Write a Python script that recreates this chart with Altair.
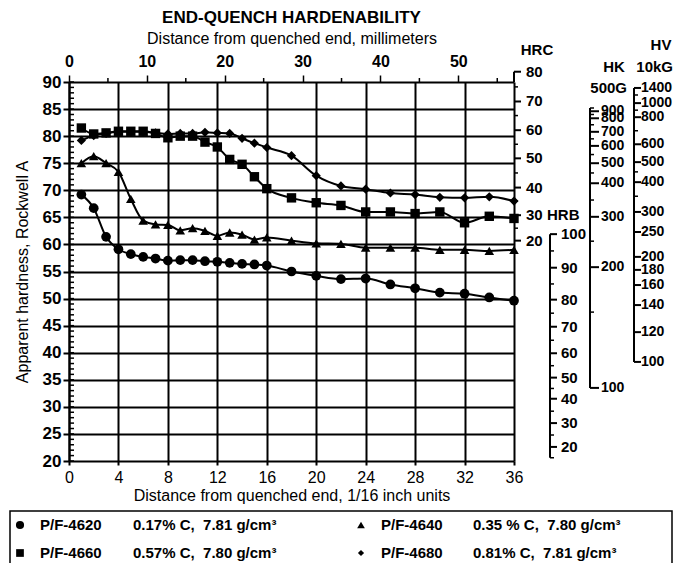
import altair as alt
import pandas as pd

# ---------------- data ----------------
DIST = [1, 2, 3, 4, 5, 6, 7, 8, 9, 10, 11, 12, 13, 14, 15, 16, 18, 20, 22, 24, 26, 28, 30, 32, 34, 36]
PF4620 = [69.2, 66.7, 61.4, 59.1, 58.2, 57.7, 57.4, 57.0, 57.1, 57.1, 56.9, 56.8, 56.6, 56.4, 56.3, 56.1,
          55.0, 54.2, 53.6, 53.7, 52.6, 51.9, 51.1, 50.9, 50.2, 49.6]
PF4640 = [75.0, 76.3, 75.0, 73.4, 68.4, 64.4, 63.7, 63.6, 62.6, 63.0, 62.5, 61.6, 62.2, 61.8, 60.9, 61.3,
          60.7, 60.2, 60.1, 59.4, 59.4, 59.4, 59.0, 59.0, 58.8, 59.0]
PF4660 = [81.5, 80.4, 80.6, 80.9, 80.9, 80.9, 80.5, 79.7, 80.0, 80.0, 78.9, 78.0, 75.7, 74.8, 72.5, 70.3,
          68.6, 67.7, 67.2, 66.0, 66.0, 65.7, 66.0, 64.0, 65.2, 64.8]
PF4680 = [79.2, 80.1, 80.5, 80.8, 80.8, 80.8, 80.6, 80.4, 80.5, 80.5, 80.7, 80.6, 80.5, 79.6, 78.7, 77.9,
          76.4, 72.7, 70.8, 70.2, 69.5, 69.2, 68.7, 68.6, 68.8, 68.0]
SERIES = ["P/F-4620", "P/F-4640", "P/F-4660", "P/F-4680"]
SHAPES = ["circle", "triangle-up", "square", "diamond"]
SIZES = [95, 85, 85, 55]

X_TICKS = [0, 4, 8, 12, 16, 20, 24, 28, 32, 36]
Y_TICKS = [20, 25, 30, 35, 40, 45, 50, 55, 60, 65, 70, 75, 80, 85, 90]
MINOR_HRA = [float(v) for v in range(20, 91)]
MM_TICKS = [0, 10, 20, 30, 40, 50]
MM_MINOR = [5, 15, 25, 35, 45, 55]
MM_PER_UNIT = 1.5875  # 1/16 inch in mm

# hardness conversion scales (label, equivalent Rockwell A)
HRC_LABELS = ["80", "70", "60", "50", "40", "30", "20"]
HRC_HRA = [91.9, 86.4, 81.1, 75.9, 70.5, 65.4, 60.7]
HRC_MINOR = [89.1, 83.8, 78.5, 73.2, 68.0, 63.0]

HRB_LABELS = ["100", "90", "80", "70", "60", "50", "40", "30", "20"]
HRB_HRA = [61.9, 55.7, 49.8, 44.8, 39.9, 35.4, 31.5, 27.0, 22.6]
HRB_MINOR = [58.8, 52.7, 47.3, 42.3, 37.6, 33.4, 29.2, 24.8, 20.6]

HK_LABELS = ["900", "800", "700", "600", "500", "400", "300", "200", "100"]
HK_HRA = [84.6, 83.3, 80.8, 78.2, 75.0, 71.3, 65.1, 55.8, 33.5]
HK_MINOR = [85.2, 84.0, 82.1, 79.5, 76.6, 73.2, 68.2, 60.6, 47.5]

HV_LABELS = ["1400", "1000", "800", "600", "500", "400", "300", "250", "200", "180", "160", "140", "120", "100"]
HV_HRA = [88.9, 86.1, 83.5, 78.5, 75.2, 71.5, 66.0, 62.3, 57.7, 55.3, 52.5, 48.8, 43.8, 38.3]
HV_MINOR = [87.6, 84.8, 81.0, 73.4, 68.9]

LEGEND_DESC = ["0.17% C,\u00a0\u00a07.81 g/cm\u00b3", "0.35 % C,\u00a0\u00a07.80 g/cm\u00b3",
               "0.57% C,\u00a0\u00a07.80 g/cm\u00b3", "0.81% C,\u00a0\u00a07.81 g/cm\u00b3"]

FONT = "Liberation Sans"
W, H = 445, 379

xs = alt.Scale(domain=[0, 36], nice=False)
ys = alt.Scale(domain=[20, 90], nice=False)

rows = []
for name, vals in zip(SERIES, [PF4620, PF4640, PF4660, PF4680]):
    for d, v in zip(DIST, vals):
        rows.append({"dist": d, "hra": v, "series": name})
df = pd.DataFrame(rows)

x_axis = alt.Axis(values=X_TICKS, grid=True, gridColor="black", gridWidth=2, domain=False,
                  tickSize=4, tickWidth=2, tickColor="black", labelFont=FONT, labelFontSize=16,
                  labelColor="black", labelPadding=4, labelFlush=False,
                  title="Distance from quenched end, 1/16 inch units", titleFont=FONT,
                  titleFontSize=16, titleFontWeight="normal", titleColor="black", titlePadding=2)
y_axis = alt.Axis(values=Y_TICKS, grid=True, gridColor="black", gridWidth=2, domain=True,
                  domainColor="black", domainWidth=2, tickSize=6, tickWidth=2, tickColor="black",
                  labelFont=FONT, labelFontSize=17, labelFontWeight="bold", labelColor="black",
                  labelPadding=2, labelFlush=False, labelOverlap=False,
                  title="Apparent hardness, Rockwell A",
                  titleFont=FONT, titleFontSize=16, titleFontWeight="normal", titleColor="black",
                  titlePadding=12)


def Yq(field):
    # every layer has its own (identical) y scale; only the data layer shows the axis
    return alt.Y(field, type="quantitative", scale=ys, axis=None)


def hrule(values, x_from, x_to, width):
    return alt.Chart(pd.DataFrame({"hra": values})).mark_rule(color="black", strokeWidth=width).encode(
        x=alt.value(x_from), x2=alt.value(x_to), y=Yq("hra"))


lines = alt.Chart(df).mark_line(color="black", strokeWidth=2, interpolate="monotone").encode(
    x=alt.X("dist:Q", scale=xs, axis=x_axis),
    y=alt.Y("hra:Q", scale=ys, axis=y_axis),
    detail="series:N",
)
points = alt.Chart(df).mark_point(filled=True, fill="black", opacity=1, strokeWidth=0).encode(
    x=alt.X("dist:Q", scale=xs, axis=None),
    y=Yq("hra"),
    shape=alt.Shape("series:N", scale=alt.Scale(domain=SERIES, range=SHAPES), legend=None),
    size=alt.Size("series:N", scale=alt.Scale(domain=SERIES, range=SIZES), legend=None),
)


def aux_scale(xl, labels, hra, minor, top, bottom, tlen=7, mlen=4, dx=10, fsize=15):
    layers = []
    layers.append(alt.Chart(pd.DataFrame({"hra": [top], "hra_end": [bottom]})).mark_rule(
        color="black", strokeWidth=2).encode(
        x=alt.value(xl), y=Yq("hra"), y2="hra_end:Q"))
    tdf = pd.DataFrame({"hra": hra, "label": labels})
    layers.append(alt.Chart(tdf).mark_rule(color="black", strokeWidth=2).encode(
        x=alt.value(xl), x2=alt.value(xl + tlen), y=Yq("hra")))
    layers.append(hrule(minor, xl, xl + mlen, 1.5))
    layers.append(alt.Chart(tdf).mark_text(align="left", baseline="middle", font=FONT, fontSize=fsize,
                                           fontWeight="bold", color="black").encode(
        x=alt.value(xl + dx), y=Yq("hra"), text="label:N"))
    return layers


aux = []
aux += aux_scale(W, HRC_LABELS, HRC_HRA, HRC_MINOR, 91.9, 90, tlen=7, dx=12)
aux += aux_scale(481, HRB_LABELS, HRB_HRA, HRB_MINOR, 61.9, 20.6, tlen=7, dx=11)
aux += aux_scale(521, HK_LABELS, HK_HRA, HK_MINOR, 85.2, 33.5, tlen=9, dx=11, fsize=14)
aux += aux_scale(565, HV_LABELS, HV_HRA, HV_MINOR, 88.9, 38.3, tlen=7, dx=7, fsize=14)

# minor ticks every 1 HRA inside the left axis
minor_left = hrule(MINOR_HRA, 0, 5, 1.5)

one = pd.DataFrame({"a": [0]})


def txt(s, x, y, align="center", size=15, weight="bold"):
    return alt.Chart(one).mark_text(text=s, align=align, baseline="middle", font=FONT, fontSize=size,
                                    fontWeight=weight, color="black").encode(x=alt.value(x), y=alt.value(y))


heads = [
    txt("HRC", 468, -32),
    txt("HV", 592, -37),
    txt("HK", 545, -15),
    txt("10kG", 604, -15, align="right"),
    txt("500G", 558, 6, align="right"),
    alt.Chart(pd.DataFrame({"hra": [65.4]})).mark_text(text="HRB", align="left", baseline="middle", font=FONT,
                                                         fontSize=15, fontWeight="bold", color="black").encode(
        x=alt.value(478), y=Yq("hra")),
]

# legend box
legend = [alt.Chart(one).mark_rect(fillOpacity=0, stroke="black", strokeWidth=1.5).encode(
    x=alt.value(-59), x2=alt.value(603), y=alt.value(429), y2=alt.value(500))]
LEG_POS = [(-49, 443), (292, 443), (-49, 471), (292, 471)]
for i, (name, desc) in enumerate(zip(SERIES, LEGEND_DESC)):
    sx, sy = LEG_POS[i]
    legend.append(alt.Chart(one).mark_point(shape=SHAPES[i], size=SIZES[i] * 0.7, filled=True, fill="black",
                                            opacity=1, strokeWidth=0).encode(x=alt.value(sx), y=alt.value(sy)))
    legend.append(txt(name, sx + 20, sy, align="left", size=15))
    legend.append(txt(desc, sx + 113 if i % 2 == 0 else sx + 112, sy, align="left", size=15))

mm_layer = alt.Chart(pd.DataFrame({"mm": MM_MINOR})).mark_rule(color="black", strokeWidth=1.5).encode(
    x=alt.X("mm:Q", scale=alt.Scale(domain=[0, 36 * MM_PER_UNIT], nice=False),
            axis=alt.Axis(orient="top", values=MM_TICKS, grid=False, domain=False, tickSize=7, tickWidth=1.5,
                          tickColor="black", labelFont=FONT, labelFontSize=16, labelFontWeight="bold",
                          labelColor="black", labelPadding=6, labelFlush=False,
                          title="Distance from quenched end, millimeters", titleFont=FONT, titleFontSize=16,
                          titleFontWeight="normal", titleColor="black", titlePadding=7)),
    y=alt.value(0), y2=alt.value(-4),
)

chart = alt.layer(lines, points, *aux, minor_left, *heads, *legend, mm_layer).resolve_scale(
    x="independent", y="independent").properties(
    width=W, height=H,
    title=alt.Title("END-QUENCH HARDENABILITY", font=FONT, fontSize=17, fontWeight="bold", color="black",
                    anchor="middle", offset=3),
    autosize=alt.AutoSizeParams(type="none"),
    padding={"left": 61, "top": 74, "right": 160, "bottom": 102},
).configure_view(stroke="transparent")

chart.save("out.html", embed_options={"renderer": "svg", "actions": False})
